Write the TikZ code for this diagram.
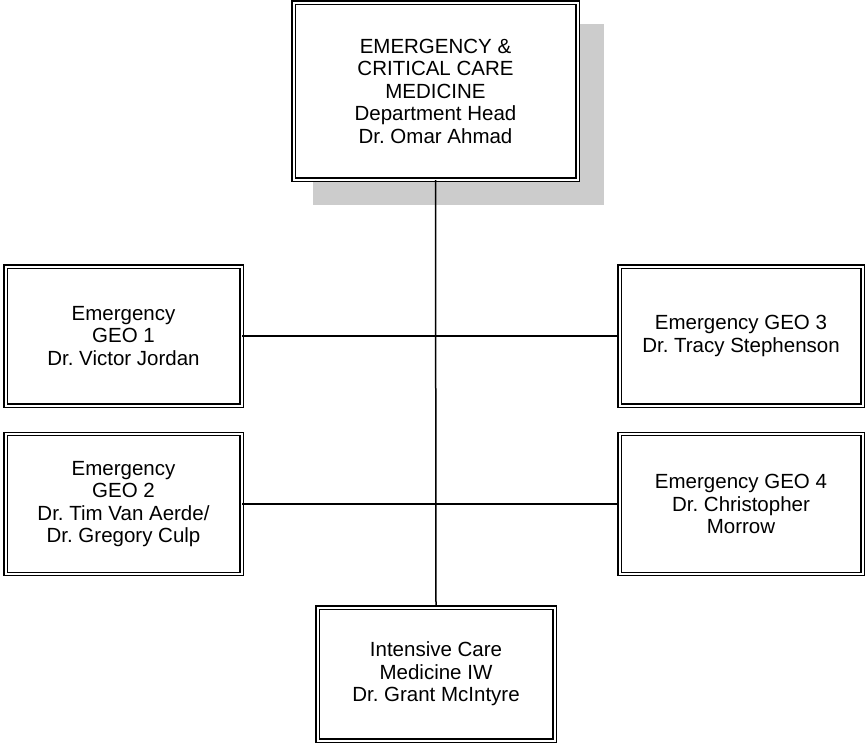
\documentclass[tikz,border=0pt]{standalone}
\usepackage{fontspec}
\setmainfont{Liberation Sans}
\usepackage{xcolor}
\frenchspacing

\begin{document}
\begin{tikzpicture}[x=1pt,y=-1pt,
                unit/.style={draw=black,double=white,double distance=2pt,line width=1.4pt,
                    fill=white,align=center,inner sep=0pt,font=\fontsize{20.5}{22.5}\selectfont},
                link/.style={line width=1.5pt}]
                \useasboundingbox (0,0) rectangle (867,744);
                \fill[black!20] (313,24) rectangle (604,205);
                \node[unit,minimum width=284pt,minimum height=177pt] (head) at (435.5,91)
                    {EMERGENCY \&\\ CRITICAL CARE\\ MEDICINE\\ Department Head\\ Dr. Omar Ahmad};
                \node[unit,minimum width=236pt,minimum height=139pt] (geoA) at (123.5,336)
                    {Emergency\\ GEO 1\\ Dr. Victor Jordan};
                \node[unit,minimum width=243pt,minimum height=139pt] (geoC) at (741,336)
                    {Emergency GEO 3\\ Dr. Tracy Stephenson};
                \node[unit,minimum width=236pt,minimum height=140pt] (geoB) at (123.5,504)
                    {Emergency\\ GEO 2\\ Dr. Tim Van Aerde/\\ Dr. Gregory Culp};
                \node[unit,minimum width=243pt,minimum height=140pt] (geoD) at (741,504)
                    {Emergency GEO 4\\ Dr. Christopher\\ Morrow};
                \node[unit,minimum width=237pt,minimum height=133pt] (icu) at (436,674)
                    {Intensive Care\\ Medicine IW\\ Dr. Grant McIntyre};
                \draw[link] (head.south) -- (icu.north);
                \draw[link] (geoA.east) -- (geoC.west);
                \draw[link] (geoB.east) -- (geoD.west);
            \end{tikzpicture}
\end{document}
